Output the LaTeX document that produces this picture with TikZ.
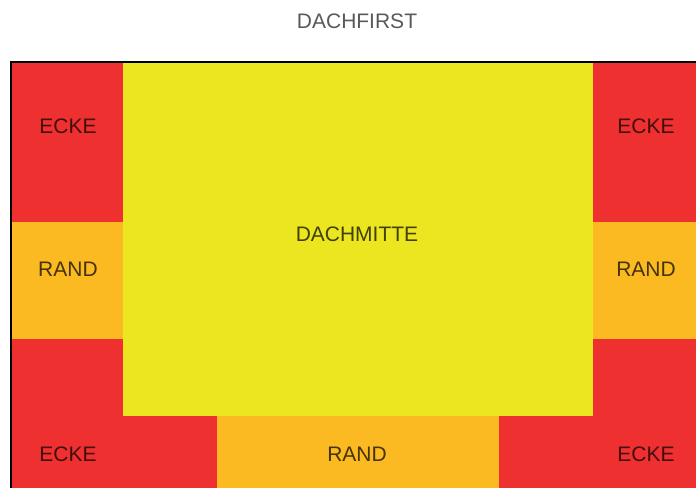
\documentclass[tikz,border=0pt]{standalone}
\usepackage{fontspec}
\setmainfont{Liberation Sans}
\usetikzlibrary{positioning}

\definecolor{eckered}{HTML}{EF3030}
\definecolor{mitteyellow}{HTML}{EBE620}
\definecolor{randorange}{HTML}{FBBA22}

\begin{document}
\begin{tikzpicture}[
  x=1pt, y=-1pt,
  font=\fontsize{21}{24}\selectfont,
  zone/.style={text=black, text opacity=0.72, inner sep=0pt},
  fieldfill/.style={draw=none},
  border/.style={draw=black, line width=2.5pt}
]
\useasboundingbox (0,0) rectangle (696,488);

% Flaechen
\fill[eckered, fieldfill] (12,63) rectangle (696,488);
\fill[mitteyellow, fieldfill] (123,63) rectangle (593,416);
\fill[randorange, fieldfill] (12,222) rectangle (123,339);
\fill[randorange, fieldfill] (593,222) rectangle (696,339);
\fill[randorange, fieldfill] (217,416) rectangle (499,488);

% Rand oben und links
\draw[border] (696,62) -- (11,62) -- (11,488);

% Beschriftung
\node[zone, text opacity=0.65] (dachfirst) at (357,21) {DACHFIRST};
\node[zone] (mitte) at (357,234) {DACHMITTE};
\node[zone] (eckeol) at (68,126) {ECKE};
\node[zone] (eckeor) at (646,126) {ECKE};
\node[zone] (randl) at (68,269) {RAND};
\node[zone] (randr) at (646,269) {RAND};
\node[zone] (eckeul) at (68,454) {ECKE};
\node[zone] (randu) at (357,454) {RAND};
\node[zone] (eckeur) at (646,454) {ECKE};

\end{tikzpicture}
\end{document}
